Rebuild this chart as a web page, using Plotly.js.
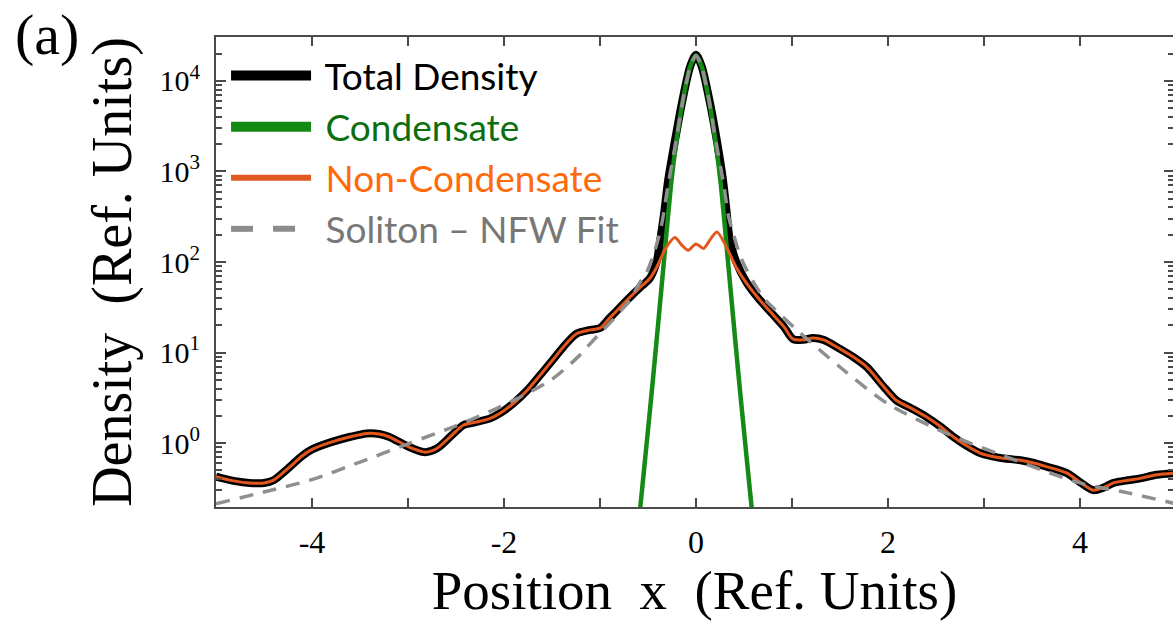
<!DOCTYPE html>
<html>
<head>
<meta charset="utf-8">
<script src="https://cdn.plot.ly/plotly-3.0.1.min.js"></script>
<style>
html,body{margin:0;padding:0;background:#fff;}
#chart{width:1173px;height:629px;}
</style>
</head>
<body>
<div id="chart"></div>
<script>
// Values; densities given as log10 of the density.
const nonCondX = [-5.0,-4.8,-4.65,-4.5,-4.4,-4.25,-4.1,-4.0,-3.8,-3.6,-3.43,-3.3,-3.2,-3.05,-2.95,-2.82,-2.7,-2.55,-2.42,-2.3,-2.15,-2.04,-1.9,-1.76,-1.6,-1.49,-1.35,-1.24,-1.1,-1.0,-0.9,-0.79,-0.65,-0.58,-0.48,-0.41,-0.31,-0.22,-0.15,-0.08,0.0,0.08,0.15,0.22,0.32,0.42,0.53,0.65,0.81,0.92,1.01,1.12,1.22,1.33,1.5,1.64,1.78,1.95,2.09,2.25,2.4,2.55,2.68,2.82,2.96,3.15,3.38,3.52,3.65,3.86,4.0,4.14,4.25,4.35,4.5,4.63,4.8,5.0];
const nonCondLog10 = [-0.37,-0.42,-0.44,-0.44,-0.41,-0.28,-0.14,-0.07,0.01,0.07,0.107,0.10,0.07,-0.01,-0.06,-0.10,-0.06,0.08,0.20,0.23,0.27,0.33,0.44,0.58,0.78,0.92,1.10,1.21,1.25,1.27,1.38,1.50,1.65,1.72,1.82,1.94,2.16,2.27,2.19,2.13,2.20,2.15,2.25,2.33,2.16,1.94,1.76,1.60,1.41,1.28,1.15,1.14,1.16,1.14,1.04,0.95,0.84,0.63,0.47,0.38,0.29,0.18,0.07,-0.03,-0.11,-0.16,-0.19,-0.22,-0.26,-0.33,-0.43,-0.52,-0.49,-0.44,-0.41,-0.39,-0.35,-0.33];

const totalX = [-5.0,-4.8,-4.65,-4.5,-4.4,-4.25,-4.1,-4.0,-3.8,-3.6,-3.43,-3.3,-3.2,-3.05,-2.95,-2.82,-2.7,-2.55,-2.42,-2.3,-2.15,-2.04,-1.9,-1.76,-1.6,-1.49,-1.35,-1.24,-1.1,-1.0,-0.9,-0.79,-0.65,-0.58,-0.48,-0.41,-0.375,-0.33,-0.29,-0.2,-0.13,-0.06,0.0,0.06,0.13,0.2,0.28,0.32,0.35,0.42,0.53,0.65,0.81,0.92,1.01,1.12,1.22,1.33,1.5,1.64,1.78,1.95,2.09,2.25,2.4,2.55,2.68,2.82,2.96,3.15,3.38,3.52,3.65,3.86,4.0,4.14,4.25,4.35,4.5,4.63,4.8,5.0];
const totalLog10 = [-0.37,-0.42,-0.44,-0.44,-0.41,-0.28,-0.14,-0.07,0.01,0.07,0.107,0.10,0.07,-0.01,-0.06,-0.10,-0.06,0.08,0.20,0.23,0.27,0.33,0.44,0.58,0.78,0.92,1.10,1.21,1.25,1.27,1.38,1.50,1.65,1.72,1.82,2.0,2.22,2.55,2.9,3.45,3.84,4.16,4.29,4.16,3.84,3.45,2.92,2.55,2.26,2.0,1.77,1.60,1.41,1.28,1.15,1.14,1.16,1.14,1.04,0.95,0.84,0.63,0.47,0.38,0.29,0.18,0.07,-0.03,-0.11,-0.16,-0.19,-0.22,-0.26,-0.33,-0.43,-0.52,-0.49,-0.44,-0.41,-0.39,-0.35,-0.33];

const condX = [-0.63,-0.58,-0.5,-0.45,-0.39,-0.33,-0.26,-0.2,-0.13,-0.06,0.0,0.06,0.13,0.2,0.26,0.33,0.39,0.45,0.5,0.58,0.63];
const condLog10 = [-1.2,-0.71,0.14,0.68,1.36,2.05,2.85,3.36,3.82,4.16,4.28,4.16,3.82,3.36,2.85,2.05,1.36,0.68,0.14,-0.71,-1.2];

const fitX = [-5.0,-4.5,-4.02,-3.5,-2.98,-2.5,-2.04,-1.52,-1.25,-1.03,-0.85,-0.69,-0.58,-0.52,-0.43,-0.36,-0.29,-0.2,-0.13,-0.06,0.0,0.06,0.13,0.2,0.29,0.34,0.39,0.46,0.53,0.7,0.81,1.05,1.5,1.99,2.61,3.13,4.0,4.5,5.0];
const fitLog10 = [-0.67,-0.54,-0.41,-0.21,0.0,0.19,0.40,0.69,0.93,1.18,1.38,1.58,1.78,1.87,2.12,2.4,2.85,3.38,3.82,4.15,4.28,4.15,3.82,3.38,2.85,2.5,2.31,2.07,1.91,1.61,1.49,1.25,0.84,0.44,0.107,-0.11,-0.44,-0.55,-0.67];

const seriesNames = ['Total Density','Condensate','Non-Condensate','Soliton \u2013 NFW Fit'];
const yTickVals = [1,10,100,1000,10000];
const yTickText = ['10<sup>0</sup>','10<sup>1</sup>','10<sup>2</sup>','10<sup>3</sup>','10<sup>4</sup>'];
const xTickVals = [-4,-2,0,2,4];
const xTickText = ['-4','-2','0','2','4'];
const xMinorTickVals = [-5,-3,-1,1,3,5];

const toDensity = a => a.map(v => Math.pow(10, v));
const minorVals = [];
[0.1,1,10,100,1000,10000].forEach(d => { for (let k=2;k<=9;k++) minorVals.push(d*k); });

const colors = {total:'#000000', cond:'#168a16', non:'#e4571c', fit:'#8f8f8f'};
const legendColors = ['#000000','#0d6e0d','#ff6a0a','#777777'];
const lbl = (i) => '<span style="color:'+legendColors[i]+'">\u00A0'+seriesNames[i]+'</span>';

const traces = [
  {x: totalX, y: toDensity(totalLog10), name: seriesNames[0], mode:'lines', showlegend:false,
   line:{color:colors.total, width:8, shape:'spline', smoothing:0.8}},
  {x: condX, y: toDensity(condLog10), name: seriesNames[1], mode:'lines', showlegend:false,
   line:{color:colors.cond, width:4.5, shape:'spline', smoothing:0.6}},
  {x: nonCondX, y: toDensity(nonCondLog10), name: seriesNames[2], mode:'lines', showlegend:false,
   line:{color:colors.non, width:3, shape:'spline', smoothing:0.8}},
  {x: fitX, y: toDensity(fitLog10), name: seriesNames[3], mode:'lines', showlegend:false,
   line:{color:colors.fit, width:3.5, dash:'14px,10px', shape:'spline', smoothing:0.8}}
];
// legend keys (thicker sample lines, as in the reference legend)
const legendWidths = [14, 10, 6, 6];
const legendDash = ['solid','solid','solid','22px,20px'];
const legendLineColors = ['#000000','#138a13','#e05a20','#8c8c8c'];
seriesNames.forEach((n,i) => traces.push({
  x:[null], y:[null], name: lbl(i), mode:'lines', legendgroup:'g'+i, hoverinfo:'skip',
  line:{color:legendLineColors[i], width:legendWidths[i], dash:legendDash[i]}
}));

const serif = 'Liberation Serif, Times New Roman, serif';
const axisCol = '#4a4a4a';
const layout = {
  width:1173, height:629,
  margin:{l:216, r:0, t:37, b:122},
  paper_bgcolor:'#ffffff', plot_bgcolor:'#ffffff',
  showlegend:true,
  legend:{x:0.0105, y:0.983, xanchor:'left', yanchor:'top', bgcolor:'rgba(0,0,0,0)',
          font:{family:'Lato, Open Sans, sans-serif', size:37, color:'#000'},
          itemwidth:80, tracegroupgap:0, traceorder:'grouped'},
  xaxis:{range:[-5,4.97], tickmode:'array', tickvals:xTickVals, ticktext:xTickText,
         ticks:'inside', ticklen:9, tickwidth:2, tickcolor:axisCol,
         minor:{tickvals:xMinorTickVals, ticks:'inside', ticklen:9, tickwidth:2, tickcolor:axisCol, showgrid:false},
         showline:true, linecolor:axisCol, linewidth:2, mirror:'ticks',
         showgrid:false, zeroline:false, ticklabelstandoff:6,
         tickfont:{family:serif, size:32, color:'#000'},
         title:{text:'Position  x  (Ref. Units)', font:{family:serif, size:55, color:'#000'}, standoff:10}},
  yaxis:{type:'log', range:[-0.706, 4.485], tickmode:'array', tickvals:yTickVals, ticktext:yTickText,
         ticks:'inside', ticklen:10, tickwidth:2, tickcolor:axisCol,
         showline:true, linecolor:axisCol, linewidth:2,
         showgrid:false, zeroline:false, ticklabelstandoff:8,
         minor:{tickvals:minorVals, ticks:'inside', ticklen:6, tickwidth:2, tickcolor:axisCol, showgrid:false},
         tickfont:{family:serif, size:30, color:'#000'},
         title:{text:'Density  (Ref. Units)', font:{family:serif, size:56, color:'#000'}, standoff:10}},
  yaxis2:{type:'log', range:[-0.706, 4.485], overlaying:'y', side:'right', tickmode:'array',
          tickvals:yTickVals, ticks:'inside', ticklen:9, tickwidth:2, tickcolor:axisCol,
          showticklabels:false, showline:false, showgrid:false, zeroline:false,
          minor:{tickvals:minorVals, ticks:'inside', ticklen:5, tickwidth:2, tickcolor:axisCol, showgrid:false}},
  annotations:[{text:'(a)', xref:'paper', yref:'paper', x:-0.212, y:1.078, xanchor:'left', yanchor:'top',
                showarrow:false, font:{family:serif, size:58, color:'#000'}}]
};
// invisible point to activate the mirrored right-side ticks
traces.push({x:[0], y:[1], yaxis:'y2', mode:'markers', marker:{opacity:0}, showlegend:false, hoverinfo:'skip'});

Plotly.newPlot('chart', traces, layout, {staticPlot:true});
</script>
</body>
</html>
